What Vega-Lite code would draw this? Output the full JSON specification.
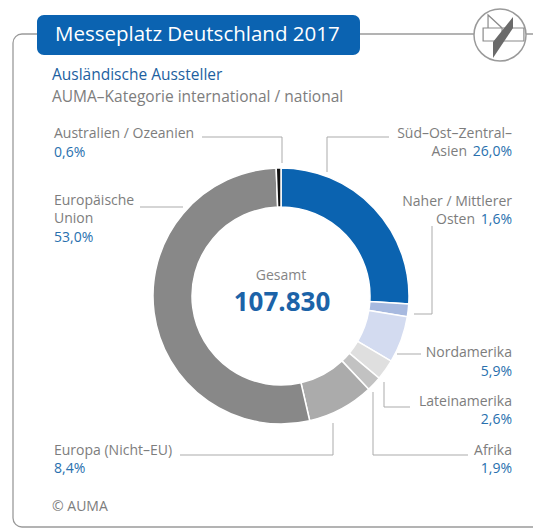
{
  "$schema": "https://vega.github.io/schema/vega-lite/v6.json",
  "width": 533,
  "height": 530,
  "autosize": "none",
  "padding": 0,
  "background": "white",
  "config": {
    "view": {"stroke": null},
    "locale": {"number": {"decimal": ",", "thousands": ".", "grouping": [3], "currency": ["", " €"]}},
    "text": {"font": "Open Sans"}
  },
  "datasets": {
    "slices": [
      {"name": "Süd-Ost-Zentral-Asien", "share": 0.260, "order": 1},
      {"name": "Naher / Mittlerer Osten", "share": 0.016, "order": 2},
      {"name": "Nordamerika", "share": 0.059, "order": 3},
      {"name": "Lateinamerika", "share": 0.026, "order": 4},
      {"name": "Afrika", "share": 0.019, "order": 5},
      {"name": "Europa (Nicht-EU)", "share": 0.084, "order": 6},
      {"name": "Europäische Union", "share": 0.530, "order": 7},
      {"name": "Australien / Ozeanien", "share": 0.006, "order": 8}
    ],
    "one": [{}]
  },
  "data": {"name": "one"},
  "layer": [
    {
      "mark": {"type": "rect", "filled": false, "stroke": "#9a9a9a", "strokeWidth": 1.3, "cornerRadius": 9},
      "encoding": {
        "x": {"datum": 13, "type": "quantitative", "scale": {"domain": [0, 533], "nice": false, "zero": false}, "axis": null},
        "x2": {"datum": 720},
        "y": {"datum": 34, "type": "quantitative", "scale": {"domain": [0, 530], "nice": false, "zero": false, "reverse": true}, "axis": null},
        "y2": {"datum": 527}
      }
    },
    {
      "mark": {"type": "rect", "fill": "#0b63b1", "cornerRadius": 7},
      "encoding": {"x": {"datum": 37}, "x2": {"datum": 360}, "y": {"datum": 15}, "y2": {"datum": 55}}
    },
    {
      "mark": {"type": "text", "text": "Messeplatz Deutschland 2017", "align": "left", "baseline": "middle", "fontSize": 20.5, "color": "white"},
      "encoding": {"x": {"datum": 55}, "y": {"datum": 35}}
    },
    {
      "mark": {"type": "point", "shape": "circle", "size": 2704, "filled": true, "fill": "white", "stroke": "#9a9a9a", "strokeWidth": 1.5, "opacity": 1},
      "encoding": {"x": {"datum": 500}, "y": {"datum": 35}}
    },
    {
      "mark": {"type": "point", "shape": "M-0.65,-0.27H0.92V0.23H-0.65Z M0.08,-0.27V0.23 M-0.46,-0.77L-0.46,-0.27L0.08,-0.27Z", "size": 2704, "filled": true, "fill": "white", "stroke": "#8a8a8a", "strokeWidth": 1.2, "opacity": 1},
      "encoding": {"x": {"datum": 500}, "y": {"datum": 35}}
    },
    {
      "mark": {"type": "point", "shape": "M0.5,-0.69L0.5,-0.27L-0.27,0.88L-0.27,0.27Z", "size": 2704, "filled": true, "fill": "#6a6a6a", "strokeWidth": 0, "opacity": 1},
      "encoding": {"x": {"datum": 500}, "y": {"datum": 35}}
    },
    {
      "mark": {"type": "text", "text": "Ausländische Aussteller", "align": "left", "baseline": "middle", "fontSize": 15.5, "color": "#1d5f9f"},
      "encoding": {"x": {"datum": 52}, "y": {"datum": 75}}
    },
    {
      "mark": {"type": "text", "text": "AUMA–Kategorie international / national", "align": "left", "baseline": "middle", "fontSize": 15.5, "color": "#7d7d7d"},
      "encoding": {"x": {"datum": 52}, "y": {"datum": 97}}
    },
    {
      "data": {"name": "slices"},
      "mark": {"type": "arc", "innerRadius": 89, "outerRadius": 128, "stroke": "white", "strokeWidth": 1.5},
      "encoding": {
        "theta": {"field": "share", "type": "quantitative", "stack": true},
        "order": {"field": "order", "type": "quantitative"},
        "color": {
          "field": "name", "type": "nominal", "legend": null,
          "scale": {
            "domain": ["Süd-Ost-Zentral-Asien", "Naher / Mittlerer Osten", "Nordamerika", "Lateinamerika", "Afrika", "Europa (Nicht-EU)", "Europäische Union", "Australien / Ozeanien"],
            "range": ["#0b63b0", "#a7b9df", "#d3dbf0", "#dfdfdf", "#c2c2c2", "#ababab", "#888888", "#111111"]
          }
        },
        "x": {"datum": 281},
        "y": {"datum": 296}
      }
    },
    {
      "mark": {"type": "text", "text": "Gesamt", "align": "center", "baseline": "middle", "fontSize": 14, "color": "#858585"},
      "encoding": {"x": {"datum": 281}, "y": {"datum": 276}}
    },
    {
      "mark": {"type": "text", "text": "107.830", "align": "center", "baseline": "middle", "fontSize": 26, "fontWeight": "bold", "color": "#1c63a8"},
      "encoding": {"x": {"datum": 282}, "y": {"datum": 303}}
    },

    {"mark": {"type": "rule", "color": "#ababab", "strokeWidth": 1}, "encoding": {"x": {"datum": 202}, "x2": {"datum": 282}, "y": {"datum": 137}, "y2": {"datum": 137}}},
    {"mark": {"type": "rule", "color": "#ababab", "strokeWidth": 1}, "encoding": {"x": {"datum": 282}, "x2": {"datum": 282}, "y": {"datum": 137}, "y2": {"datum": 163}}},
    {"mark": {"type": "rule", "color": "#ababab", "strokeWidth": 1}, "encoding": {"x": {"datum": 140}, "x2": {"datum": 183}, "y": {"datum": 207}, "y2": {"datum": 207}}},
    {"mark": {"type": "rule", "color": "#ababab", "strokeWidth": 1}, "encoding": {"x": {"datum": 327}, "x2": {"datum": 389}, "y": {"datum": 137}, "y2": {"datum": 137}}},
    {"mark": {"type": "rule", "color": "#ababab", "strokeWidth": 1}, "encoding": {"x": {"datum": 327}, "x2": {"datum": 327}, "y": {"datum": 137}, "y2": {"datum": 172}}},
    {"mark": {"type": "rule", "color": "#ababab", "strokeWidth": 1}, "encoding": {"x": {"datum": 432}, "x2": {"datum": 432}, "y": {"datum": 226}, "y2": {"datum": 314}}},
    {"mark": {"type": "rule", "color": "#ababab", "strokeWidth": 1}, "encoding": {"x": {"datum": 414}, "x2": {"datum": 432}, "y": {"datum": 314}, "y2": {"datum": 314}}},
    {"mark": {"type": "rule", "color": "#ababab", "strokeWidth": 1}, "encoding": {"x": {"datum": 397}, "x2": {"datum": 421}, "y": {"datum": 354}, "y2": {"datum": 354}}},
    {"mark": {"type": "rule", "color": "#ababab", "strokeWidth": 1}, "encoding": {"x": {"datum": 384}, "x2": {"datum": 384}, "y": {"datum": 382}, "y2": {"datum": 407}}},
    {"mark": {"type": "rule", "color": "#ababab", "strokeWidth": 1}, "encoding": {"x": {"datum": 384}, "x2": {"datum": 410}, "y": {"datum": 407}, "y2": {"datum": 407}}},
    {"mark": {"type": "rule", "color": "#ababab", "strokeWidth": 1}, "encoding": {"x": {"datum": 373}, "x2": {"datum": 373}, "y": {"datum": 392}, "y2": {"datum": 455}}},
    {"mark": {"type": "rule", "color": "#ababab", "strokeWidth": 1}, "encoding": {"x": {"datum": 373}, "x2": {"datum": 468}, "y": {"datum": 455}, "y2": {"datum": 455}}},
    {"mark": {"type": "rule", "color": "#ababab", "strokeWidth": 1}, "encoding": {"x": {"datum": 180}, "x2": {"datum": 333}, "y": {"datum": 455}, "y2": {"datum": 455}}},
    {"mark": {"type": "rule", "color": "#ababab", "strokeWidth": 1}, "encoding": {"x": {"datum": 333}, "x2": {"datum": 333}, "y": {"datum": 423}, "y2": {"datum": 455}}},

    {"mark": {"type": "text", "text": "Australien / Ozeanien", "align": "left", "baseline": "middle", "fontSize": 14, "color": "#7d7d7d"}, "encoding": {"x": {"datum": 54}, "y": {"datum": 134}}},
    {"mark": {"type": "text", "text": "Europäische", "align": "left", "baseline": "middle", "fontSize": 14, "color": "#7d7d7d"}, "encoding": {"x": {"datum": 54}, "y": {"datum": 201}}},
    {"mark": {"type": "text", "text": "Union", "align": "left", "baseline": "middle", "fontSize": 14, "color": "#7d7d7d"}, "encoding": {"x": {"datum": 54}, "y": {"datum": 219}}},
    {"mark": {"type": "text", "text": "Europa (Nicht–EU)", "align": "left", "baseline": "middle", "fontSize": 14, "color": "#7d7d7d"}, "encoding": {"x": {"datum": 54}, "y": {"datum": 451}}},
    {"mark": {"type": "text", "text": "Süd–Ost–Zentral–", "align": "right", "baseline": "middle", "fontSize": 14, "color": "#7d7d7d"}, "encoding": {"x": {"datum": 512}, "y": {"datum": 134}}},
    {"mark": {"type": "text", "text": "Asien", "align": "right", "baseline": "middle", "fontSize": 14, "color": "#7d7d7d"}, "encoding": {"x": {"datum": 467}, "y": {"datum": 152}}},
    {"mark": {"type": "text", "text": "Naher / Mittlerer", "align": "right", "baseline": "middle", "fontSize": 14, "color": "#7d7d7d"}, "encoding": {"x": {"datum": 512}, "y": {"datum": 202}}},
    {"mark": {"type": "text", "text": "Osten", "align": "right", "baseline": "middle", "fontSize": 14, "color": "#7d7d7d"}, "encoding": {"x": {"datum": 475}, "y": {"datum": 220}}},
    {"mark": {"type": "text", "text": "Nordamerika", "align": "right", "baseline": "middle", "fontSize": 14, "color": "#7d7d7d"}, "encoding": {"x": {"datum": 512}, "y": {"datum": 353}}},
    {"mark": {"type": "text", "text": "Lateinamerika", "align": "right", "baseline": "middle", "fontSize": 14, "color": "#7d7d7d"}, "encoding": {"x": {"datum": 512}, "y": {"datum": 402}}},
    {"mark": {"type": "text", "text": "Afrika", "align": "right", "baseline": "middle", "fontSize": 14, "color": "#7d7d7d"}, "encoding": {"x": {"datum": 512}, "y": {"datum": 451}}},
    {"mark": {"type": "text", "text": "© AUMA", "align": "left", "baseline": "middle", "fontSize": 14, "color": "#7d7d7d"}, "encoding": {"x": {"datum": 52}, "y": {"datum": 507}}},

    {"data": {"name": "slices"}, "transform": [{"filter": "datum.name === 'Australien / Ozeanien'"}], "mark": {"type": "text", "align": "left", "baseline": "middle", "fontSize": 14, "color": "#2870ae"}, "encoding": {"x": {"datum": 54}, "y": {"datum": 153}, "text": {"field": "share", "type": "quantitative", "format": ".1%"}}},
    {"data": {"name": "slices"}, "transform": [{"filter": "datum.name === 'Europäische Union'"}], "mark": {"type": "text", "align": "left", "baseline": "middle", "fontSize": 14, "color": "#2870ae"}, "encoding": {"x": {"datum": 54}, "y": {"datum": 238}, "text": {"field": "share", "type": "quantitative", "format": ".1%"}}},
    {"data": {"name": "slices"}, "transform": [{"filter": "datum.name === 'Europa (Nicht-EU)'"}], "mark": {"type": "text", "align": "left", "baseline": "middle", "fontSize": 14, "color": "#2870ae"}, "encoding": {"x": {"datum": 54}, "y": {"datum": 469}, "text": {"field": "share", "type": "quantitative", "format": ".1%"}}},
    {"data": {"name": "slices"}, "transform": [{"filter": "datum.name === 'Süd-Ost-Zentral-Asien'"}], "mark": {"type": "text", "align": "right", "baseline": "middle", "fontSize": 14, "color": "#2870ae"}, "encoding": {"x": {"datum": 512}, "y": {"datum": 152}, "text": {"field": "share", "type": "quantitative", "format": ".1%"}}},
    {"data": {"name": "slices"}, "transform": [{"filter": "datum.name === 'Naher / Mittlerer Osten'"}], "mark": {"type": "text", "align": "right", "baseline": "middle", "fontSize": 14, "color": "#2870ae"}, "encoding": {"x": {"datum": 512}, "y": {"datum": 220}, "text": {"field": "share", "type": "quantitative", "format": ".1%"}}},
    {"data": {"name": "slices"}, "transform": [{"filter": "datum.name === 'Nordamerika'"}], "mark": {"type": "text", "align": "right", "baseline": "middle", "fontSize": 14, "color": "#2870ae"}, "encoding": {"x": {"datum": 512}, "y": {"datum": 372}, "text": {"field": "share", "type": "quantitative", "format": ".1%"}}},
    {"data": {"name": "slices"}, "transform": [{"filter": "datum.name === 'Lateinamerika'"}], "mark": {"type": "text", "align": "right", "baseline": "middle", "fontSize": 14, "color": "#2870ae"}, "encoding": {"x": {"datum": 512}, "y": {"datum": 420}, "text": {"field": "share", "type": "quantitative", "format": ".1%"}}},
    {"data": {"name": "slices"}, "transform": [{"filter": "datum.name === 'Afrika'"}], "mark": {"type": "text", "align": "right", "baseline": "middle", "fontSize": 14, "color": "#2870ae"}, "encoding": {"x": {"datum": 512}, "y": {"datum": 469}, "text": {"field": "share", "type": "quantitative", "format": ".1%"}}}
  ]
}
